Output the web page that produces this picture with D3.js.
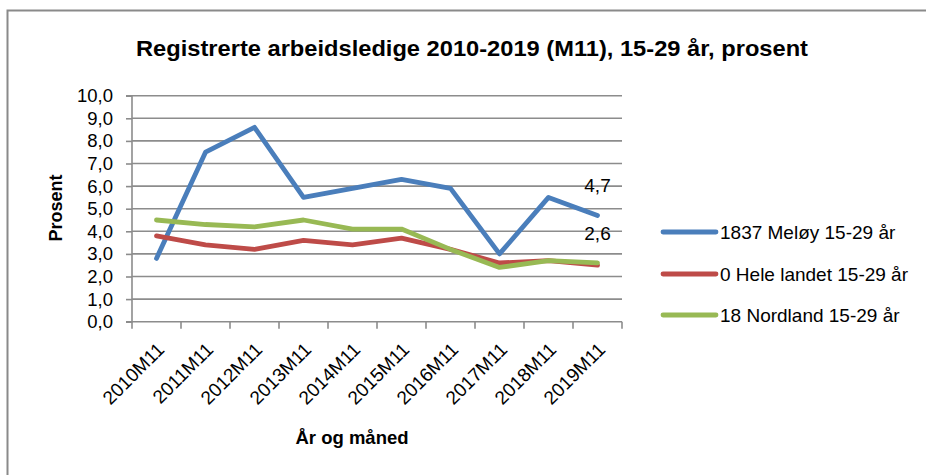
<!DOCTYPE html>
<html><head><meta charset="utf-8">
<script src="https://cdn.jsdelivr.net/npm/d3@7"></script>
<style>body{margin:0;background:#fff}svg{display:block}text{font-family:"Liberation Sans",Arial,sans-serif;fill:#000}</style>
</head><body><svg id="c" width="926" height="475"></svg>
<script>
const categories = ["2010M11","2011M11","2012M11","2013M11","2014M11","2015M11","2016M11","2017M11","2018M11","2019M11"];
const meloy = [2.8,7.5,8.6,5.5,5.9,6.3,5.9,3.0,5.5,4.7];
const heleLandet = [3.8,3.4,3.2,3.6,3.4,3.7,3.2,2.6,2.7,2.5];
const nordland = [4.5,4.3,4.2,4.5,4.1,4.1,3.2,2.4,2.7,2.6];
const seriesNames = ["1837 Meløy 15-29 år","0 Hele landet 15-29 år","18 Nordland 15-29 år"];
const seriesColors = ["#4A7EBB","#BE4B48","#98B954"];
const yTicks = [0,1,2,3,4,5,6,7,8,9,10];

const svg = d3.select("#c");
svg.append("path").attr("d","M7.5,475V10.5H926").attr("fill","none").attr("stroke","#8a8a8a").attr("stroke-width",2);

const L=132, R=622, T=95.7, B=321.7;
const x = d3.scaleBand().domain(categories).range([L,R]);
const y = d3.scaleLinear().domain([0,10]).range([B,T]);
const fmt = d => d3.format(".1f")(d).replace(".",",");

svg.append("g").selectAll("line").data(yTicks.slice(1)).join("line")
  .attr("x1",L).attr("x2",R).attr("y1",d=>y(d)).attr("y2",d=>y(d))
  .attr("stroke","#8c8c8c").attr("stroke-width",1.6);

const ya = svg.append("g").attr("transform",`translate(${L},0)`)
  .call(d3.axisLeft(y).tickValues(yTicks).tickFormat(fmt).tickSize(6).tickPadding(13));
ya.select(".domain").attr("stroke","#8c8c8c").attr("stroke-width",1.6).attr("d",`M-6,${T}H0V${B}H-6`);
ya.selectAll(".tick line").attr("stroke","#8c8c8c").attr("stroke-width",1.6);
ya.selectAll("text").style("font-size","18.5px").attr("font-family","Liberation Sans");

const xa = svg.append("g").attr("transform",`translate(0,${B})`)
  .call(d3.axisBottom(x).tickSize(0).tickPadding(0));
xa.select(".domain").attr("stroke","#8c8c8c").attr("stroke-width",1.6).attr("d",`M${L},0H${R}`);
xa.selectAll(".tick line").remove();
xa.append("g").selectAll("line").data(d3.range(categories.length+1)).join("line")
  .attr("x1",i=>L+i*x.step()).attr("x2",i=>L+i*x.step()).attr("y1",0).attr("y2",7)
  .attr("stroke","#8c8c8c").attr("stroke-width",1.6);
xa.selectAll(".tick text").style("font-size","19px")
  .attr("text-anchor","end").attr("dy",0).attr("y",0)
  .attr("transform","translate(9,29) rotate(-45)");

const cx = c => x(c)+x.bandwidth()/2;
const line = d3.line().x((d,i)=>cx(categories[i])).y(d=>y(d));
const allSeries = [meloy,heleLandet,nordland];
svg.append("g").selectAll("path").data(allSeries).join("path")
  .attr("d",line).attr("fill","none").attr("stroke",(d,i)=>seriesColors[i])
  .attr("stroke-width",4.8).attr("stroke-linejoin","round").attr("stroke-linecap","round");

const last = categories.length-1;
[meloy,nordland].forEach(s=>{
  svg.append("text").attr("x",cx(categories[last])).attr("y",y(s[last])-23)
    .attr("text-anchor","middle").style("font-size","19px").text(fmt(s[last]));
});

svg.append("text").attr("x",472).attr("y",56).attr("text-anchor","middle")
  .style("font-size","22.5px").style("font-weight","bold")
  .attr("textLength",672).attr("lengthAdjust","spacingAndGlyphs")
  .text("Registrerte arbeidsledige 2010-2019 (M11), 15-29 år, prosent");
svg.append("text").attr("transform","translate(62,208) rotate(-90)").attr("text-anchor","middle")
  .style("font-size","18px").style("font-weight","bold").text("Prosent");
svg.append("text").attr("x",352).attr("y",444).attr("text-anchor","middle")
  .style("font-size","18.5px").style("font-weight","bold").text("År og måned");

const lg = svg.append("g");
const ly = [232,274,315];
seriesNames.forEach((n,i)=>{
  lg.append("line").attr("x1",663).attr("x2",716).attr("y1",ly[i]).attr("y2",ly[i])
    .attr("stroke",seriesColors[i]).attr("stroke-width",4.8).attr("stroke-linecap","round");
  lg.append("text").attr("x",720).attr("y",ly[i]+7).style("font-size","19px").text(n);
});
</script></body></html>
